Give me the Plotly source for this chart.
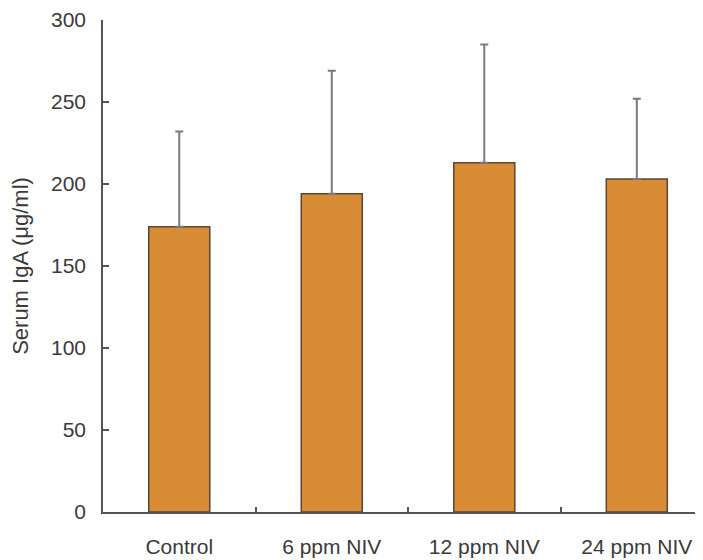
import plotly.graph_objects as go

categories = ["Control", "6 ppm NIV", "12 ppm NIV", "24 ppm NIV"]
means = [174, 194, 213, 203]
sd_upper = [58, 75, 72, 49]
y_ticks = [0, 50, 100, 150, 200, 250, 300]

font_family = "Liberation Sans, Arial, sans-serif"
text_color = "#3a3a3a"
axis_color = "#555555"

fig = go.Figure()
fig.add_trace(go.Bar(
    x=categories,
    y=means,
    width=0.4,
    marker=dict(color="#D98C36", line=dict(color="#5a4632", width=1.5)),
    error_y=dict(type="data", symmetric=False, array=sd_upper,
                 arrayminus=[0] * len(sd_upper),
                 color="#7a7a7a", thickness=2, width=4),
    showlegend=False,
))

# page body has an 8px default margin, so the figure is sized to fit the window
fig.update_layout(
    width=695, height=552,
    margin=dict(l=95, r=0, t=12, b=48),
    paper_bgcolor="white", plot_bgcolor="white",
    font=dict(family=font_family, size=21, color=text_color),
    bargap=0.6,
)
fig.update_xaxes(
    type="category",
    range=[-0.5, 3.434],
    showline=True, linecolor=axis_color, linewidth=1.5,
    ticks="inside", tickson="boundaries", ticklen=5, tickcolor=axis_color,
    tickwidth=1.5,
    showgrid=False, zeroline=False,
    ticklabelstandoff=15,
    tickfont=dict(size=21, color=text_color),
)
fig.update_yaxes(
    range=[0, 300],
    tickmode="array", tickvals=y_ticks,
    showline=True, linecolor=axis_color, linewidth=1.5,
    ticks="inside", ticklen=6, tickcolor=axis_color, tickwidth=1.5,
    showgrid=False, zeroline=False,
    ticklabelstandoff=11,
    tickfont=dict(size=21, color=text_color),
    title=dict(text="Serum IgA (μg/ml)", font=dict(size=22, color=text_color),
               standoff=17),
)

fig.write_html("out.html")
